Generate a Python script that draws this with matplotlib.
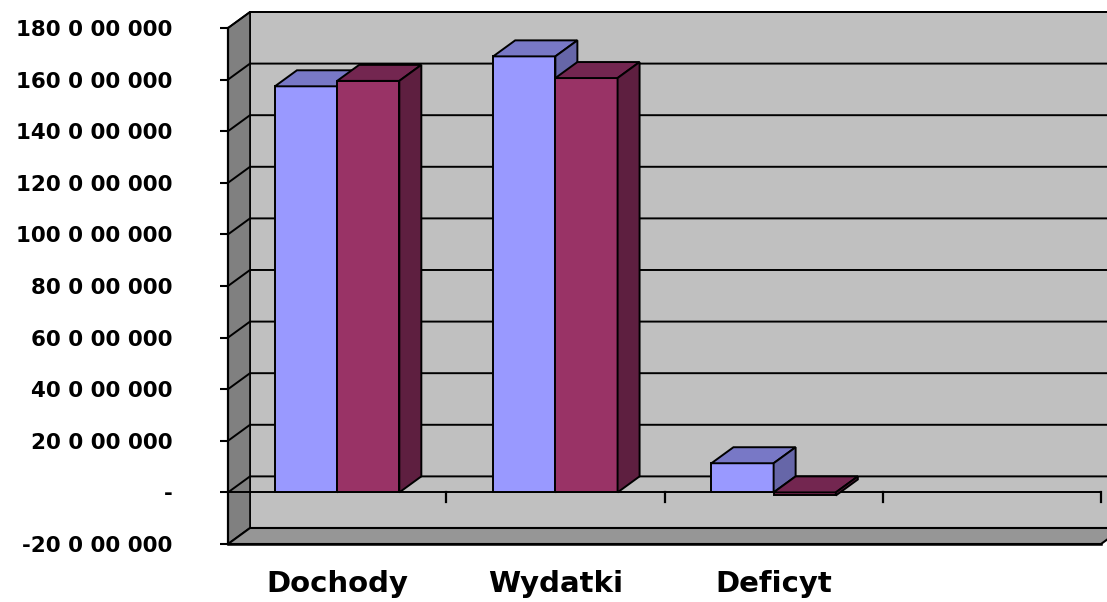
import matplotlib
matplotlib.use('Agg')
import matplotlib.pyplot as plt
from matplotlib.patches import Polygon

# dane
categories = ['Dochody', 'Wydatki', 'Deficyt', '']
series_1 = [157.4, 169.0, 11.3]   # niebieska seria
series_2 = [159.5, 160.6, -1.2]   # bordowa seria
y_ticks = [-20, 0, 20, 40, 60, 80, 100, 120, 140, 160, 180]
y_tick_labels = ['-20 0 00 000', '-', '20 0 00 000', '40 0 00 000', '60 0 00 000',
                 '80 0 00 000', '100 0 00 000', '120 0 00 000', '140 0 00 000',
                 '160 0 00 000', '180 0 00 000']

# kolory (front, gora, bok)
colors_1 = ('#9999FF', '#7878C6', '#6666A8')
colors_2 = ('#993366', '#732650', '#5E1F40')

W, H = 1107, 602
fig = plt.figure(figsize=(W / 100, H / 100), dpi=100)
ax = fig.add_axes([228 / W, (H - 544) / H, (1101 - 228) / W, (544 - 28) / H])
ax.set_xlim(0, 4)
ax.set_ylim(-20, 180)

# glebokosc 3d w jednostkach danych
dx = 22 / 218.25
dy = 16 / 2.578
ymin, ymax = -20, 180
nc = len(categories)

def poly(pts, fc, z, lw=1.4):
    ax.add_patch(Polygon(pts, closed=True, facecolor=fc, edgecolor='black',
                         linewidth=lw, zorder=z, clip_on=False, joinstyle='miter'))

# sciana tylna, lewa, podloga
poly([(dx, ymin + dy), (nc + dx, ymin + dy), (nc + dx, ymax + dy), (dx, ymax + dy)], '#C0C0C0', 1, 1.2)
poly([(0, ymin), (dx, ymin + dy), (dx, ymax + dy), (0, ymax)], '#808080', 1, 1.2)
poly([(0, ymin), (nc, ymin), (nc + dx, ymin + dy), (dx, ymin + dy)], '#969696', 1.5, 1.5)

# linie siatki
for v in y_ticks[1:]:
    ax.plot([0, dx, nc + dx], [v, v + dy, v + dy], color='black', lw=1.4,
            zorder=2, clip_on=False, solid_joinstyle='miter')

# os kategorii w zerze
ax.plot([0, nc], [0, 0], color='black', lw=1.4, zorder=3, clip_on=False)
for i in range(1, nc + 1):
    ax.plot([i, i], [0, -3.9], color='black', lw=1.6, zorder=3, clip_on=False)

bw = 0.285

def bar3d(x0, v, cols):
    lo, hi = min(0, v), max(0, v)
    x1 = x0 + bw
    poly([(x0, lo), (x1, lo), (x1, hi), (x0, hi)], cols[0], 5)
    poly([(x0, hi), (x1, hi), (x1 + dx, hi + dy), (x0 + dx, hi + dy)], cols[1], 5)
    poly([(x1, lo), (x1 + dx, lo + dy), (x1 + dx, hi + dy), (x1, hi)], cols[2], 5)

for i in range(len(series_1)):
    bar3d(i + 0.5 - bw, series_1[i], colors_1)
    bar3d(i + 0.5, series_2[i], colors_2)

# osie
for s in ['top', 'right', 'bottom']:
    ax.spines[s].set_visible(False)
ax.spines['left'].set_linewidth(1.6)
ax.spines['left'].set_zorder(4)
ax.plot([0, nc], [ymin, ymin], color='black', lw=1.8, zorder=4, clip_on=False)

ax.set_yticks(y_ticks)
ax.set_yticklabels(y_tick_labels, fontsize=15.4, fontweight='bold', family='DejaVu Sans')
ax.tick_params(axis='y', direction='out', length=6, width=1.5, pad=34)
ax.set_xticks([i + 0.5 for i in range(nc)])
ax.set_xticklabels(categories, fontsize=21, fontweight='bold', family='DejaVu Sans')
ax.tick_params(axis='x', length=0, pad=19)
ax.set_facecolor('none')

fig.savefig('out.png', dpi=100)
